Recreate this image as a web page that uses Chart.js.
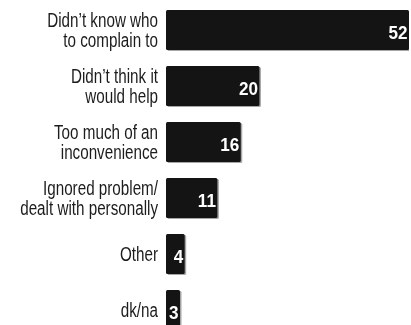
<!DOCTYPE html>
<html>
<head>
<meta charset="utf-8">
<script src="https://cdn.jsdelivr.net/npm/chart.js@4/dist/chart.umd.min.js"></script>
<style>
    html, body { margin: 0; padding: 0; background: #fff; overflow: hidden; }
    #wrap { position: relative; width: 411px; height: 340px; }
</style>
</head>
<body>
<div id="wrap"><canvas id="myChart"></canvas></div>
<script>
// Raisons de ne pas avoir porté plainte (%)
const raisons = [
    ["Didn\u2019t know who", "to complain to"],
    ["Didn\u2019t think it", "would help"],
    ["Too much of an", "inconvenience"],
    ["Ignored problem/", "dealt with personally"],
    ["Other"],
    ["dk/na"]
];
const pourcentages = [52, 20, 16, 11, 4, 3];

// pas de police "narrow" installee : on compresse Liberation Sans horizontalement
const police = "'Liberation Sans', Arial, sans-serif";

// ombre grise sous les barres
const ombreBarres = {
    id: 'ombreBarres',
    beforeDatasetDraw(chart) {
        const ctx = chart.ctx;
        ctx.save();
        ctx.shadowColor = 'rgba(0,0,0,0.35)';
        ctx.shadowOffsetX = 1.5;
        ctx.shadowOffsetY = 1;
        ctx.shadowBlur = 0.5;
    },
    afterDatasetDraw(chart) {
        chart.ctx.restore();
    }
};

// texte compresse, aligne a droite sur x
function texteEtroit(ctx, texte, x, y, compression) {
    ctx.save();
    ctx.translate(x, y);
    ctx.scale(compression, 1);
    ctx.fillText(texte, 0, 0);
    ctx.restore();
}

// libelles a gauche + valeurs en blanc au bout des barres
const libellesBarres = {
    id: 'libellesBarres',
    afterDatasetsDraw(chart) {
        const ctx = chart.ctx;
        const meta = chart.getDatasetMeta(0);
        const echelleY = chart.scales.y;
        const gauche = chart.chartArea.left;
        const interligne = 20.5;
        const hauteurCap = 14;

        ctx.save();
        ctx.textAlign = 'right';
        ctx.textBaseline = 'alphabetic';

        // libelles des categories
        ctx.fillStyle = '#1c1c1c';
        ctx.font = "19.5px " + police;
        raisons.forEach((lignes, i) => {
            const centre = echelleY.getPixelForValue(i);
            const hauteurBloc = (lignes.length - 1) * interligne + hauteurCap;
            let y = centre - hauteurBloc / 2 + hauteurCap;
            lignes.forEach(ligne => {
                texteEtroit(ctx, ligne, gauche - 8, y, 0.78);
                y += interligne;
            });
        });

        // valeurs
        ctx.fillStyle = '#ffffff';
        ctx.font = "bold 19px " + police;
        meta.data.forEach((barre, i) => {
            texteEtroit(ctx, String(pourcentages[i]), barre.x - 1.5, barre.y + 8.5, 0.9);
        });
        ctx.restore();
    }
};

const ctx = document.getElementById('myChart').getContext('2d');

myChart = new Chart(ctx, {
    type: 'bar',
    data: {
        labels: raisons.map(l => l.join(' ')),
        datasets: [{
            data: pourcentages,
            backgroundColor: '#141414',
            borderRadius: 1.5,
            borderSkipped: false,
            barPercentage: 0.714,
            categoryPercentage: 1
        }]
    },
    options: {
        indexAxis: 'y',
        responsive: true,
        maintainAspectRatio: false,
        animation: false,
        layout: { padding: { top: 2, bottom: 2, right: 2, left: 166 } },
        plugins: {
            legend: { display: false },
            tooltip: { enabled: false }
        },
        scales: {
            x: {
                min: 0,
                max: 52,
                display: false
            },
            y: {
                display: false
            }
        }
    },
    plugins: [ombreBarres, libellesBarres]
});
</script>
</body>
</html>
